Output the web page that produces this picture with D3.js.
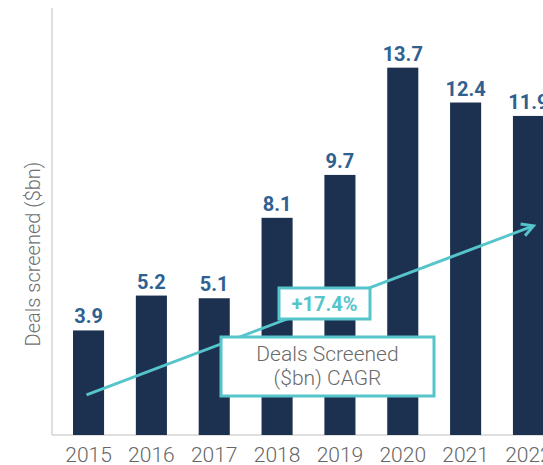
<!DOCTYPE html>
<html>
<head>
<meta charset="utf-8">
<script src="https://cdn.jsdelivr.net/npm/d3@7"></script>
<style>
  html, body { margin: 0; padding: 0; background: #fff; overflow: hidden; }
  svg { display: block; font-family: Roboto, "Noto Sans", sans-serif; }
</style>
</head>
<body>
<svg id="chart" width="543" height="465"></svg>
<script>
// Deals screened per year, $bn
const years = ["2015", "2016", "2017", "2018", "2019", "2020", "2021", "2022"];
const dealsScreened = [3.9, 5.2, 5.1, 8.1, 9.7, 13.7, 12.4, 11.9];

// CAGR trend arrow (start and end in data units) and its labels
const cagrStart = { year: "2015", value: 1.5 };
const cagrEnd = { year: "2022", value: 7.8, offset: 5 };
const cagrValue = "+17.4%";
const cagrCaption = ["Deals Screened", "($bn) CAGR"];
const yTitle = "Deals screened ($bn)";

const navy = "#1c3050";
const labelBlue = "#2e6190";
const teal = "#55c5cb";
const greyText = "#666666";
const axisGrey = "#d4d4d4";

const svg = d3.select("#chart");

const axisX = 52, baseY = 435, topY = 6;

const x = d3.scaleBand()
  .domain(years)
  .range([73, 544])
  .paddingInner(0.5056)
  .paddingOuter(0);

const y = d3.scaleLinear()
  .domain([0, 16])
  .range([baseY, topY]);

// Axis lines
svg.append("line")
  .attr("x1", axisX).attr("x2", axisX)
  .attr("y1", 8).attr("y2", baseY)
  .attr("stroke", axisGrey).attr("stroke-width", 1.5);
svg.append("line")
  .attr("x1", axisX).attr("x2", 543)
  .attr("y1", baseY).attr("y2", baseY)
  .attr("stroke", axisGrey).attr("stroke-width", 1.5);

// Bars
svg.append("g").selectAll("rect")
  .data(years)
  .join("rect")
  .attr("x", d => x(d))
  .attr("y", (d, i) => y(dealsScreened[i]))
  .attr("width", x.bandwidth())
  .attr("height", (d, i) => baseY - y(dealsScreened[i]))
  .attr("fill", navy);

// Value labels
svg.append("g").selectAll("text")
  .data(years)
  .join("text")
  .attr("x", d => x(d) + x.bandwidth() / 2)
  .attr("y", (d, i) => y(dealsScreened[i]) - 7)
  .attr("text-anchor", "middle")
  .attr("font-size", 20)
  .attr("font-weight", 700)
  .attr("fill", labelBlue)
  .text((d, i) => d3.format(".1f")(dealsScreened[i]));

// Year labels
svg.append("g").selectAll("text")
  .data(years)
  .join("text")
  .attr("x", d => x(d) + x.bandwidth() / 2)
  .attr("y", 462)
  .attr("text-anchor", "middle")
  .attr("font-size", 21)
  .attr("font-weight", 300)
  .attr("fill", greyText)
  .text(d => d);

// Y axis title
svg.append("text")
  .attr("transform", "translate(40,254) rotate(-90)")
  .attr("text-anchor", "middle")
  .attr("font-size", 20)
  .attr("font-weight", 300)
  .attr("fill", "#707070")
  .text(yTitle);

// CAGR arrow
const x0 = x(cagrStart.year) + x.bandwidth() / 2 - 2;
const y0 = y(cagrStart.value);
const x1 = x(cagrEnd.year) + x.bandwidth() / 2 + cagrEnd.offset;
const y1 = y(cagrEnd.value);
const ang = Math.atan2(y1 - y0, x1 - x0);
const head = 13, spread = 0.5;

const arrow = svg.append("g")
  .attr("stroke", teal).attr("stroke-width", 3)
  .attr("fill", "none").attr("stroke-linecap", "butt");
arrow.append("line")
  .attr("x1", x0).attr("y1", y0)
  .attr("x2", x1 - 1.5 * Math.cos(ang)).attr("y2", y1 - 1.5 * Math.sin(ang));
arrow.append("path")
  .attr("stroke-linejoin", "miter")
  .attr("d", d3.line()([
    [x1 - head * Math.cos(ang - spread), y1 - head * Math.sin(ang - spread)],
    [x1, y1],
    [x1 - head * Math.cos(ang + spread), y1 - head * Math.sin(ang + spread)]
  ]));

// CAGR value box
const vb = svg.append("g");
vb.append("rect")
  .attr("x", 279).attr("y", 288).attr("width", 91).attr("height", 31)
  .attr("fill", "#fff").attr("stroke", teal).attr("stroke-width", 3);
vb.append("text")
  .attr("x", 324.5).attr("y", 311)
  .attr("text-anchor", "middle")
  .attr("font-size", 20).attr("font-weight", 700)
  .attr("fill", teal)
  .text(cagrValue);

// CAGR caption box
const cb = svg.append("g");
cb.append("rect")
  .attr("x", 221).attr("y", 337).attr("width", 213).attr("height", 59)
  .attr("fill", "#fff").attr("stroke", teal).attr("stroke-width", 3);
cb.append("text")
  .attr("text-anchor", "middle")
  .attr("font-size", 21).attr("font-weight", 300)
  .attr("fill", "#6a6a6a")
  .selectAll("tspan")
  .data(cagrCaption)
  .join("tspan")
  .attr("x", 327.5)
  .attr("y", (d, i) => 360.5 + i * 24)
  .text(d => d);
</script>
</body>
</html>
